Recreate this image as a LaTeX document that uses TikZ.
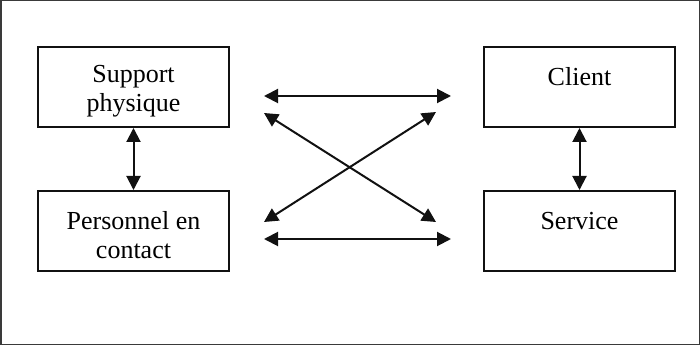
\documentclass[tikz,border=0pt]{standalone}
\usepackage{fontspec}
\setmainfont{Liberation Serif}
\usepackage{tikz}
\usetikzlibrary{arrows.meta,positioning}
\definecolor{ink}{HTML}{111111}
\definecolor{frame}{HTML}{3A3A3A}
\newcommand\boxlift{\rule{0pt}{26pt}}
\tikzset{
  box/.style={rectangle, draw=ink, fill=white, line width=2pt, align=center,
              minimum width=191pt, minimum height=80pt, inner sep=4pt,
              font=\fontsize{26}{29}\selectfont},
  link/.style={{Triangle[length=14pt,width=14pt]}-{Triangle[length=14pt,width=14pt]}, draw=ink, line width=2pt}
}
\begin{document}
\begin{tikzpicture}[x=1pt, y=1pt]
 \useasboundingbox (0,0) rectangle (700,345);
 \draw[frame, line width=1.5pt] (0.75,0.75) rectangle (699.25,344.25);
 \node[box] (sup) at (133.5,258) {\boxlift Support\\physique};
 \node[box, below=62pt of sup] (per) {\boxlift Personnel en\\contact};
 \node[box, right=253pt of sup] (cli) {\boxlift Client\\\mbox{}};
 \node[box, below=62pt of cli] (ser) {\boxlift Service\\\mbox{}};
 \draw[link](sup)--(per);\draw[link](cli)--(ser);
 \draw[link]([shift={(34pt,-9pt)}]sup.east)--([shift={(-32pt,-9pt)}]cli.west);
 \draw[link]([shift={(34pt,-8pt)}]per.east)--([shift={(-32pt,-8pt)}]ser.west);
 \draw[link]([shift={(34pt,-26pt)}]sup.east)--([shift={(-47pt,9pt)}]ser.west);
 \draw[link]([shift={(34pt,9pt)}]per.east)--([shift={(-47pt,-25pt)}]cli.west);
\end{tikzpicture}
\end{document}
